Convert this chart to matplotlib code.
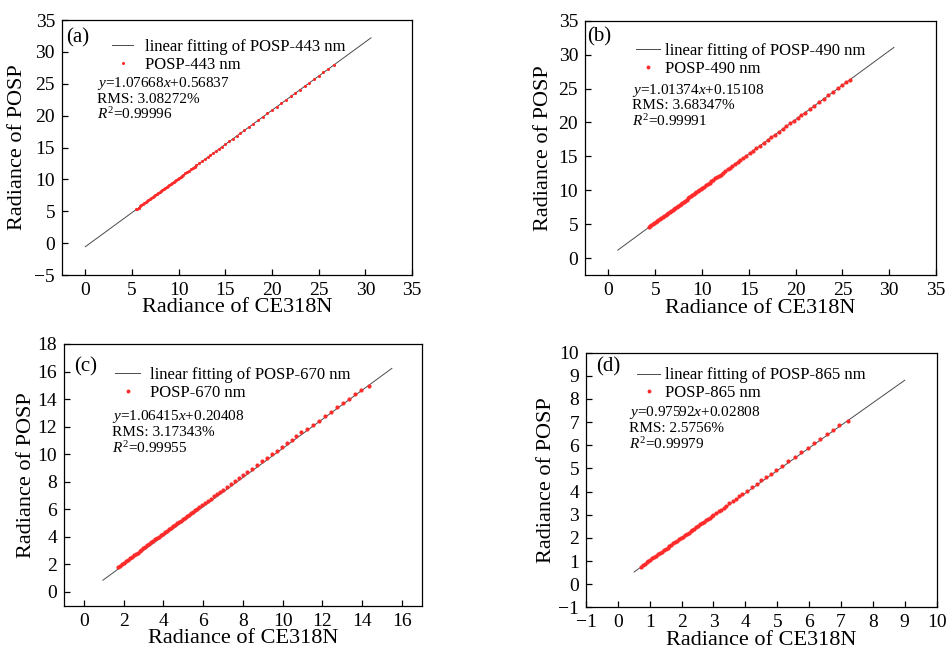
# ===============================================
# POSP vs CE318N radiance comparison (4 bands)
# ===============================================

import matplotlib
matplotlib.use("Agg")
import matplotlib.pyplot as plt
from matplotlib.lines import Line2D

plt.rcParams["font.family"] = ["Liberation Serif", "DejaVu Serif"]
plt.rcParams["mathtext.fontset"] = "custom"
plt.rcParams["mathtext.rm"] = "Liberation Serif"
plt.rcParams["mathtext.it"] = "Liberation Serif:italic"

# ===============================================
# Data
# ===============================================

# (a) 443 nm
x_443 = [5.4, 5.55, 5.7, 5.85, 6.0, 6.15, 6.3, 6.45, 6.6, 6.75, 6.9, 7.05, 7.2, 7.35,
         7.5, 7.65, 7.8, 7.95, 8.1, 8.25, 8.4, 8.55, 8.7, 8.85, 9.0, 9.15, 9.3, 9.45,
         9.6, 9.75, 9.9, 10.05, 10.2, 10.35, 10.5, 10.7, 10.9, 11.1, 11.3, 11.5, 11.7,
         11.9, 12.2, 12.5, 12.8, 13.1, 13.4, 13.7, 14.0, 14.3, 14.6, 15.0, 15.4, 15.8,
         16.2, 16.6, 17.0, 17.5, 18.0, 18.5, 19.0, 19.5, 20.0, 20.5, 21.0, 21.5, 22.0,
         22.5, 23.0, 23.5, 24.0, 24.5, 25.0, 25.5, 26.0, 26.6]
y_443 = [5.29, 5.43, 5.58, 5.75, 5.92, 6.07, 6.22, 6.39, 6.56, 6.71, 6.86, 7.03, 7.2, 7.35,
         7.51, 7.68, 7.85, 8.0, 8.15, 8.32, 8.49, 8.64, 8.79, 8.96, 9.13, 9.28, 9.43, 9.6,
         9.77, 9.92, 10.07, 10.24, 10.41, 10.56, 10.72, 10.94, 11.16, 11.37, 11.57, 11.8,
         12.02, 12.22, 12.53, 12.87, 13.2, 13.51, 13.82, 14.15, 14.48, 14.79, 15.1, 15.55,
         15.96, 16.4, 16.83, 17.25, 17.67, 18.22, 18.76, 19.29, 19.81, 20.36, 20.9, 21.43,
         21.95, 22.5, 23.04, 23.57, 24.09, 24.64, 25.18, 25.71, 26.23, 26.78, 27.32, 27.98]
fit_x_443 = [0.0, 30.6]
fit_y_443 = [-0.56, 32.2]

# (b) 490 nm
x_490 = [4.3, 4.45, 4.6, 4.75, 4.9, 5.05, 5.2, 5.35, 5.5, 5.65, 5.8, 5.95, 6.1, 6.25, 6.4,
         6.55, 6.7, 6.85, 7.0, 7.15, 7.3, 7.45, 7.6, 7.75, 7.9, 8.05, 8.2, 8.35, 8.5, 8.65,
         8.8, 8.95, 9.1, 9.25, 9.4, 9.55, 9.7, 9.85, 10.0, 10.2, 10.4, 10.6, 10.8, 11.0,
         11.2, 11.4, 11.6, 11.8, 12.0, 12.25, 12.5, 12.75, 13.0, 13.25, 13.5, 13.8, 14.1,
         14.4, 14.75, 15.1, 15.45, 15.8, 16.2, 16.6, 17.0, 17.4, 17.8, 18.2, 18.6, 19.0,
         19.4, 19.8, 20.2, 20.6, 21.0, 21.5, 22.0, 22.5, 23.0, 23.5, 24.0, 24.5, 25.0,
         25.4, 25.8]
y_490 = [4.53, 4.68, 4.84, 4.99, 5.13, 5.29, 5.45, 5.59, 5.74, 5.9, 6.06, 6.2, 6.35, 6.52,
         6.66, 6.8, 6.96, 7.12, 7.27, 7.41, 7.57, 7.73, 7.87, 8.02, 8.18, 8.34, 8.48, 8.62,
         8.79, 8.95, 9.09, 9.23, 9.39, 9.56, 9.7, 9.84, 9.99, 10.14, 10.3, 10.52, 10.73,
         10.93, 11.12, 11.31, 11.52, 11.74, 11.94, 12.13, 12.32, 12.59, 12.85, 13.09, 13.34,
         13.6, 13.87, 14.15, 14.46, 14.78, 15.12, 15.47, 15.84, 16.2, 16.58, 17.0, 17.41,
         17.8, 18.22, 18.62, 19.01, 19.43, 19.85, 20.24, 20.64, 21.06, 21.46, 21.95, 22.47,
         22.99, 23.49, 23.98, 24.51, 25.01, 25.5, 25.93, 26.32]
fit_x_490 = [1.0, 30.5]
fit_y_490 = [1.17, 31.07]

# (c) 670 nm
x_670 = [1.7, 1.8, 1.9, 2.0, 2.1, 2.2, 2.3, 2.4, 2.5, 2.6, 2.7, 2.8, 2.9, 3.0, 3.1, 3.2,
         3.3, 3.4, 3.5, 3.6, 3.7, 3.8, 3.9, 4.0, 4.1, 4.2, 4.3, 4.4, 4.5, 4.6, 4.7, 4.8,
         4.9, 5.0, 5.1, 5.2, 5.3, 5.4, 5.5, 5.6, 5.7, 5.8, 5.95, 6.1, 6.25, 6.4, 6.55, 6.7,
         6.85, 7.0, 7.2, 7.4, 7.6, 7.8, 8.0, 8.2, 8.45, 8.7, 8.95, 9.2, 9.45, 9.7, 9.95,
         10.2, 10.45, 10.7, 10.95, 11.25, 11.55, 11.85, 12.15, 12.45, 12.75, 13.05, 13.35,
         13.65, 13.95, 14.35]
y_670 = [1.8, 1.9, 2.01, 2.12, 2.22, 2.33, 2.43, 2.54, 2.65, 2.75, 2.86, 2.96, 3.07, 3.17,
         3.28, 3.39, 3.49, 3.6, 3.7, 3.81, 3.91, 4.02, 4.13, 4.23, 4.34, 4.44, 4.55, 4.66,
         4.76, 4.87, 4.97, 5.08, 5.18, 5.29, 5.4, 5.5, 5.61, 5.71, 5.82, 5.92, 6.03, 6.14,
         6.3, 6.45, 6.61, 6.77, 6.93, 7.09, 7.25, 7.41, 7.62, 7.83, 8.04, 8.25, 8.46, 8.68,
         8.94, 9.2, 9.47, 9.73, 10.0, 10.26, 10.53, 10.79, 11.06, 11.32, 11.59, 11.8, 12.12,
         12.44, 12.75, 13.07, 13.39, 13.71, 14.02, 14.34, 14.66, 14.98]
fit_x_670 = [0.96, 15.5]
fit_y_670 = [0.85, 16.23]

# (d) 865 nm
x_865 = [0.72, 0.78, 0.84, 0.9, 0.96, 1.02, 1.08, 1.14, 1.2, 1.26, 1.32, 1.38, 1.44, 1.5,
         1.56, 1.62, 1.68, 1.74, 1.8, 1.86, 1.92, 1.98, 2.04, 2.1, 2.16, 2.22, 2.28, 2.34,
         2.4, 2.46, 2.52, 2.58, 2.64, 2.7, 2.76, 2.82, 2.88, 2.94, 3.0, 3.08, 3.16, 3.24,
         3.32, 3.4, 3.5, 3.6, 3.7, 3.8, 3.9, 4.05, 4.2, 4.35, 4.5, 4.65, 4.8, 4.95, 5.15,
         5.35, 5.55, 5.75, 5.95, 6.15, 6.35, 6.55, 6.75, 6.95, 7.22]
y_865 = [0.76, 0.82, 0.88, 0.94, 1.0, 1.06, 1.11, 1.17, 1.23, 1.29, 1.35, 1.41, 1.47, 1.52,
         1.58, 1.64, 1.7, 1.76, 1.82, 1.88, 1.93, 1.99, 2.05, 2.11, 2.17, 2.23, 2.29, 2.34,
         2.4, 2.46, 2.52, 2.58, 2.64, 2.7, 2.75, 2.81, 2.87, 2.93, 2.99, 3.07, 3.14, 3.22,
         3.3, 3.38, 3.51, 3.6, 3.7, 3.8, 3.9, 4.04, 4.19, 4.34, 4.48, 4.63, 4.77, 4.92,
         5.12, 5.31, 5.51, 5.7, 5.9, 6.09, 6.29, 6.48, 6.68, 6.87, 7.07]
fit_x_865 = [0.51, 9.0]
fit_y_865 = [0.526, 8.81]

bands = ["443", "490", "670", "865"]
panel_tags = ["(a)", "(b)", "(c)", "(d)"]
equations = [r"$y$=1.07668$x$+0.56837", r"$y$=1.01374$x$+0.15108",
             r"$y$=1.06415$x$+0.20408", r"$y$=0.97592$x$+0.02808"]
rms_texts = ["RMS: 3.08272%", "RMS: 3.68347%", "RMS: 3.17343%", "RMS: 2.5756%"]
r2_texts = [r"$R^2$=0.99996", r"$R^2$=0.99991", r"$R^2$=0.99955", r"$R^2$=0.99979"]

xs = [x_443, x_490, x_670, x_865]
ys = [y_443, y_490, y_670, y_865]
fit_xs = [fit_x_443, fit_x_490, fit_x_670, fit_x_865]
fit_ys = [fit_y_443, fit_y_490, fit_y_670, fit_y_865]

# ===============================================
# Layout / style per panel
# ===============================================

axes_rects = [[0.0654, 0.5769, 0.3692, 0.3923],
              [0.6171, 0.5769, 0.3703, 0.3912],
              [0.0675, 0.0682, 0.3773, 0.4026],
              [0.6181, 0.0657, 0.3699, 0.3917]]
xlims = [(-2.5, 35), (-2.5, 35), (-1, 17), (-1, 10)]
ylims = [(-5, 35), (-2.5, 35), (-1, 18), (-1, 10)]
xticks = [range(0, 36, 5), range(0, 36, 5), range(0, 17, 2), range(-1, 11)]
yticks = [range(-5, 36, 5), range(0, 36, 5), range(0, 19, 2), range(-1, 11)]
dot_size = [5, 9, 9, 9]

tag_pos = [(0.013, 0.931), (0.007, 0.937), (0.028, 0.913), (0.028, 0.945)]
leg_pos = [(0.143, 0.925), (0.146, 0.912), (0.143, 0.911), (0.146, 0.942)]
leg_hlen = [1.26, 1.45, 1.5, 1.4]
leg_pad = [0.72, 0.26, 0.6, 0.26]
text_x = [0.099, 0.135, 0.133, 0.123]
text_y = [(0.753, 0.690, 0.631), (0.727, 0.667, 0.607),
          (0.722, 0.661, 0.604), (0.764, 0.703, 0.640)]
xlabel_y = [-0.129, -0.130, -0.127, -0.130]
ylabel_x = [-0.127, -0.117, -0.104, -0.112]

red = "#ff2a2a"
line_color = "#4a4a4a"

# ===============================================
# Plot
# ===============================================

fig = plt.figure(figsize=(9.48, 6.5), dpi=100)

for i in range(4):
    ax = fig.add_axes(axes_rects[i])

    ax.plot(fit_xs[i], fit_ys[i], color=line_color, linewidth=0.7)
    ax.scatter(xs[i], ys[i], s=dot_size[i], color=red, linewidths=0, zorder=3)

    ax.set_xlim(*xlims[i])
    ax.set_ylim(*ylims[i])
    ax.set_xticks(list(xticks[i]))
    ax.set_yticks(list(yticks[i]))
    ax.tick_params(direction="in", length=4.5, width=0.9, labelsize=14, pad=5)
    for sp in ax.spines.values():
        sp.set_linewidth(0.9)

    ax.set_xlabel("Radiance of CE318N", fontsize=16)
    ax.set_ylabel("Radiance of POSP", fontsize=16)
    ax.xaxis.set_label_coords(0.5, xlabel_y[i])
    ax.xaxis.label.set_va("center")
    ax.yaxis.set_label_coords(ylabel_x[i], 0.5)
    ax.yaxis.label.set_va("center")

    ax.text(tag_pos[i][0], tag_pos[i][1], panel_tags[i], transform=ax.transAxes,
            fontsize=15, ha="left", va="center")

    handles = [Line2D([], [], color=line_color, linewidth=0.7),
               Line2D([], [], color=red, marker="o", markersize=2.8 if i else 2.2,
                      linestyle="none", markeredgewidth=0)]
    labels = ["linear fitting of POSP-%s nm" % bands[i], "POSP-%s nm" % bands[i]]
    ax.legend(handles, labels, loc="upper left", bbox_to_anchor=leg_pos[i],
              frameon=False, fontsize=12, borderpad=0, borderaxespad=0,
              handlelength=leg_hlen[i], handletextpad=leg_pad[i], labelspacing=0.1)

    lines = [equations[i], rms_texts[i], r2_texts[i]]
    for txt, ty in zip(lines, text_y[i]):
        ax.text(text_x[i], ty, txt, transform=ax.transAxes, fontsize=11,
                ha="left", va="center")

fig.savefig("out.png", dpi=100)
